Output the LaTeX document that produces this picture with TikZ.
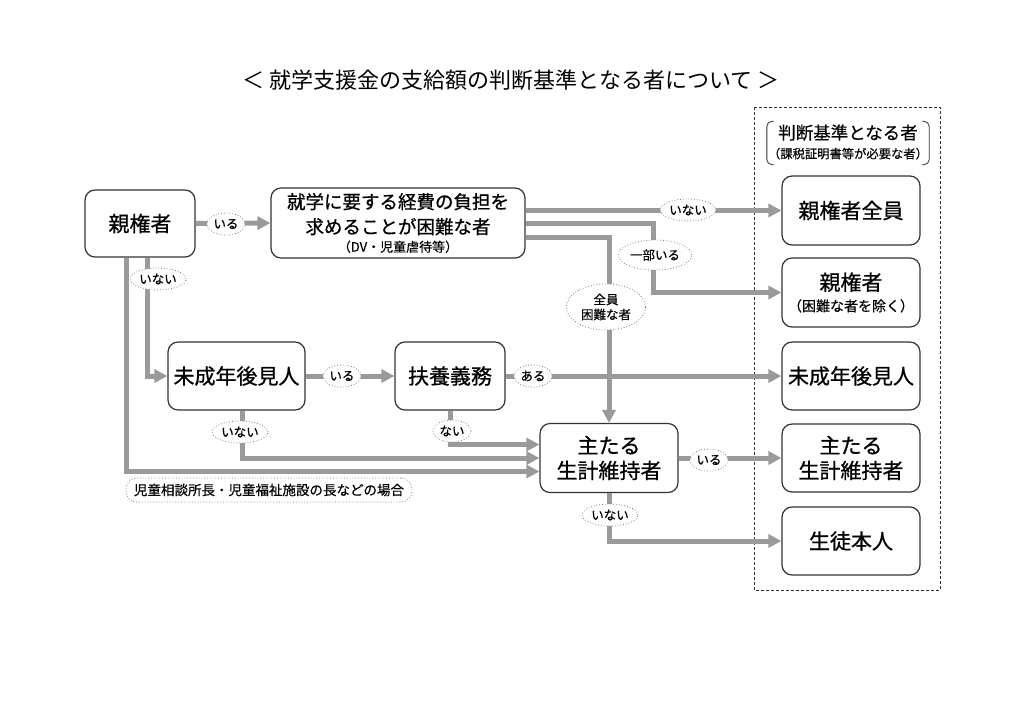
\documentclass[tikz,border=0pt]{standalone}
\usepackage{fontspec}
\setmainfont{Noto Sans CJK JP}
\newfontfamily\jpb{Noto Sans CJK JP}[FakeBold=0.8]
\newfontfamily\jpm{Noto Sans CJK JP}[FakeBold=0.4]
\usetikzlibrary{arrows.meta,shapes.geometric,calc}
\definecolor{lg}{HTML}{9A9A9A}
\definecolor{bd}{HTML}{333333}
\begin{document}
\begin{tikzpicture}[x=1pt,y=-1pt,
 box/.style={draw=bd,line width=1.2pt,rounded corners=10pt,fill=white,align=center,inner sep=0pt},
 arr/.style={draw=lg,line width=5pt,-{Triangle[length=13pt,width=13pt]}},
 lab/.style={ellipse,draw=gray,dotted,line width=0.8pt,fill=white,inner sep=1pt,minimum height=22pt,align=center,font=\jpm\fontsize{12.5}{15}\selectfont},
 big/.style={font=\jpb\fontsize{21}{25}\selectfont}
]
\fill[white] (0,0) rectangle (1024,724);
\useasboundingbox (0,0) rectangle (1024,724);

\node[font=\fontsize{22}{26}\selectfont] (title) at (511,80) {＜ 就学支援金の支給額の判断基準となる者について ＞};

% dashed frame and header
\draw[bd,line width=0.8pt,dash pattern=on 3pt off 2pt] (754,107) rectangle (940,590);
\node[align=center,inner sep=0pt,font=\jpm\fontsize{17.5}{20}\selectfont] (hdr) at (848,142) {判断基準となる者\\[-1pt]{\fontsize{12.3}{14}\selectfont （課税証明書等が必要な者）}};
\draw[bd,line width=0.8pt,rounded corners=5pt] ($(hdr.north west)+(6,-3)$) -- ($(hdr.north west)+(-1,-3)$) -- ($(hdr.south west)+(-1,5)$) -- ($(hdr.south west)+(6,5)$);
\draw[bd,line width=0.8pt,rounded corners=5pt] ($(hdr.north east)+(-6,-3)$) -- ($(hdr.north east)+(1,-3)$) -- ($(hdr.south east)+(1,5)$) -- ($(hdr.south east)+(-6,5)$);

% left/middle boxes
\node[box,big,minimum width=110pt,minimum height=67pt] (oya) at (140,223.5) {親権者};
\node[box,minimum width=254pt,minimum height=70pt,font=\jpb\fontsize{18.5}{26}\selectfont] (konnan) at (398,223) {就学に要する経費の負担を\\[-1pt]求めることが困難な者\\[-8pt]{\jpm\fontsize{13}{15}\selectfont （DV・児童虐待等）}};
\node[box,big,minimum width=137pt,minimum height=68pt] (mise) at (236.5,376) {未成年後見人};
\node[box,big,minimum width=110pt,minimum height=68pt] (fuyo) at (450,376) {扶養義務};
\node[box,big,minimum width=138pt,minimum height=69pt] (shu) at (609,458) {主たる\\生計維持者};

% right boxes
\node[box,big,minimum width=138pt,minimum height=69pt] (r1) at (851,210.5) {親権者全員};
\node[box,big,minimum width=138pt,minimum height=69pt] (r2) at (851,292.5) {親権者\\[-4pt]{\jpm\fontsize{14}{16}\selectfont （困難な者を除く）}};
\node[box,big,minimum width=138pt,minimum height=68pt] (r3) at (851,376) {未成年後見人};
\node[box,big,minimum width=138pt,minimum height=68pt] (r4) at (851,458) {主たる\\生計維持者};
\node[box,big,minimum width=138pt,minimum height=68pt] (r5) at (851,541) {生徒本人};

% connectors
\draw[arr] (oya.east) -- (konnan.west);
\draw[arr] (konnan.east |- r1.west) -- (r1.west);
\draw[arr] (konnan.east) -- ++(128,0) |- (r2.west);
\draw[arr] ([yshift=-14pt]konnan.east) -| (shu.north);
\draw[arr] ([xshift=7pt]oya.south) |- (mise.west);
\draw[arr] ([xshift=-14pt]oya.south) |- ([yshift=-13.5pt]shu.west);
\draw[arr] (mise.east) -- (fuyo.west);
\draw[arr] (fuyo.east) -- (r3.west);
\draw[arr] ([xshift=5.5pt]mise.south) |- (shu.west);
\draw[arr] (fuyo.south) |- ([yshift=13.5pt]shu.west);
\draw[arr] (shu.east) -- (r4.west);
\draw[arr] (shu.south) |- (r5.west);

% labels
\node[lab] (l1) at (226,224) {いる};
\node[lab] (l2) at (688,210) {いない};
\node[lab,minimum height=30pt] (l3) at (655,255) {一部いる};
\node[lab,inner sep=3pt] (l4) at (606,307) {全員\\困難な者};
\node[lab] (l5) at (158,279) {いない};
\node[lab] (l6) at (342,376) {いる};
\node[lab] (l7) at (533,376) {ある};
\node[lab] (l8) at (240,432) {いない};
\node[lab] (l9) at (452,431) {ない};
\node[lab] (l10) at (709,460) {いる};
\node[lab] (l11) at (610,515) {いない};
\node[draw=gray,dotted,line width=0.8pt,rounded corners=11pt,fill=white,minimum height=24pt,inner xsep=8pt,font=\jpm\fontsize{13.5}{16}\selectfont] (note) at (269,490) {児童相談所長・児童福祉施設の長などの場合};
\end{tikzpicture}
\end{document}
